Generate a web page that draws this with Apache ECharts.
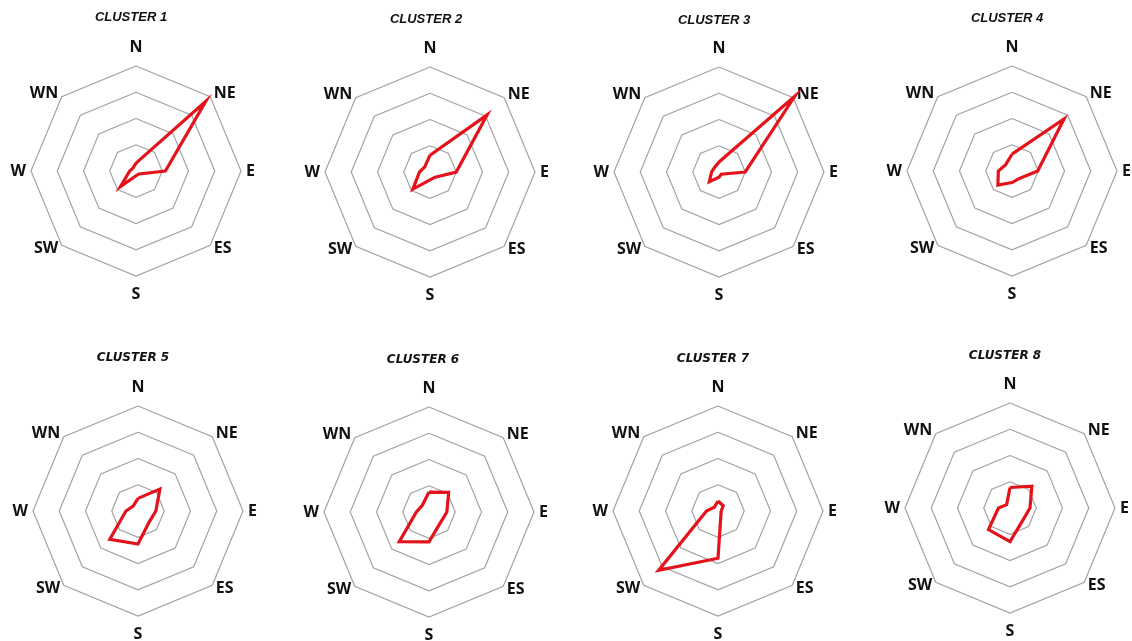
<!DOCTYPE html>
<html>
<head>
<meta charset="utf-8">
<title>Wind direction clusters</title>
<script src="https://cdn.jsdelivr.net/npm/echarts@6/dist/echarts.min.js"></script>
<style>
  html, body { margin: 0; padding: 0; background: #ffffff; }
  #chart { width: 1132px; height: 641px; }
</style>
</head>
<body>
<div id="chart"></div>
<script>
// Compass directions, listed clockwise from north
const directions = ['N', 'NE', 'E', 'ES', 'S', 'SW', 'W', 'WN'];

// Share of each direction per cluster (outer ring = 100), in the order of `directions`
const cluster1 = [7.5, 94, 28, 4, 4.5, 21, 6, 4];
const cluster2 = [16, 77, 25, 7, 7.5, 23, 10, 7];
const cluster3 = [9.5, 102, 25, 3, 5, 13, 7, 6];
const cluster4 = [16, 70, 24.5, 10, 11, 19, 13, 8.5];
const cluster5 = [12, 29.5, 17, 15, 31.5, 38, 11.5, 6.5];
const cluster6 = [19, 26.5, 17, 15, 28.5, 40, 12, 9];
const cluster7 = [9.5, 7, 3, 4, 45, 80, 11, 5];
const cluster8 = [19.5, 29.5, 19, 17, 32, 29, 11, 4.5];

const clusterNames = ['CLUSTER 1', 'CLUSTER 2', 'CLUSTER 3', 'CLUSTER 4',
                      'CLUSTER 5', 'CLUSTER 6', 'CLUSTER 7', 'CLUSTER 8'];
const clusterData = [cluster1, cluster2, cluster3, cluster4,
                     cluster5, cluster6, cluster7, cluster8];

const axisMax = 100;

// Panel layout: radar centres and title positions
const centers = [[136, 171], [430, 172], [719, 172], [1012, 171],
                 [138, 511], [429, 512], [718, 511], [1010, 508]];
const titleCenters = [[131, 18], [426, 20], [714, 21], [1007, 19],
                      [133, 359], [423, 361], [713, 360], [1005, 357]];
const radarRadius = 105;

// ECharts lays indicators out counter-clockwise from the top,
// so walk the compass the other way round: N, WN, W, SW, S, ES, E, NE
const order = [0, 7, 6, 5, 4, 3, 2, 1];
const indicator = order.map(i => ({ name: directions[i], max: axisMax, min: 0 }));

const nameFont = { color: '#111111', fontFamily: 'Open Sans', fontWeight: 'bold', fontSize: 16 };

const radars = centers.map(c => ({
  center: c,
  radius: radarRadius,
  startAngle: 90,
  splitNumber: 4,
  shape: 'polygon',
  indicator: indicator,
  axisLine: { show: false },
  axisTick: { show: false },
  axisLabel: { show: false },
  splitArea: { show: false },
  splitLine: { lineStyle: { color: '#a3a3a3', width: 1.2 } },
  nameGap: 5,
  axisName: Object.assign({}, nameFont, {
    formatter: function (name) {
      if (name === 'N') return '{n|' + name + '}';
      if (name === 'S') return '{s|' + name + '}';
      return '{d|' + name + '}';
    },
    rich: {
      n: Object.assign({ padding: [0, 0, 6, 0] }, nameFont),
      s: Object.assign({ padding: [5, 0, 0, 0] }, nameFont),
      d: Object.assign({}, nameFont)
    }
  })
}));

const titles = clusterNames.map((name, k) => {
  const topRow = k < 4;
  const fs = topRow ? 13 : 12;
  return {
    text: name,
    left: titleCenters[k][0],
    top: titleCenters[k][1] - fs / 2 - 1,
    textAlign: 'center',
    padding: 0,
    textStyle: {
      fontFamily: topRow ? 'Liberation Sans' : 'DejaVu Sans',
      fontStyle: 'italic',
      fontWeight: 'bold',
      fontSize: fs,
      color: '#111111'
    }
  };
});

const series = clusterData.map((vals, k) => ({
  type: 'radar',
  radarIndex: k,
  name: clusterNames[k],
  symbol: 'none',
  silent: true,
  lineStyle: { color: '#e3121b', width: 3.2, join: 'miter' },
  data: [{ value: order.map(i => vals[i]), name: clusterNames[k] }]
}));

const chart = echarts.init(document.getElementById('chart'), null, { renderer: 'canvas' });
chart.setOption({
  backgroundColor: '#ffffff',
  animation: false,
  title: titles,
  radar: radars,
  series: series
});
</script>
</body>
</html>
